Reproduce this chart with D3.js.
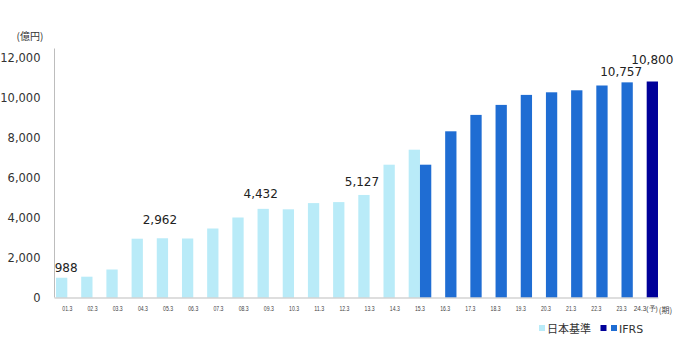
<!DOCTYPE html>
<html><head><meta charset="utf-8">
<script src="https://cdn.jsdelivr.net/npm/d3@7"></script>
<style>
html,body{margin:0;padding:0;background:#fff;}
svg{display:block;}
</style></head>
<body>
<svg id="chart" width="680" height="355"></svg>
<script>
const categories = ["01.3","02.3","03.3","04.3","05.3","06.3","07.3","08.3","09.3","10.3","11.3","12.3","13.3","14.3","15.3","16.3","17.3","18.3","19.3","20.3","21.3","22.3","23.3","24.3"];
const jgaapValues = [988,1040,1400,2940,2962,2950,3450,4000,4432,4410,4720,4770,5127,6640,7390,null,null,null,null,null,null,null,null,null];
const ifrsValues  = [null,null,null,null,null,null,null,null,null,null,null,null,null,null,6640,8310,9130,9630,10130,10260,10360,10600,10757,10800];
const forecastCategory = "24.3";
const yTicks = [0,2000,4000,6000,8000,10000,12000];
const labeledBars = [["01.3","jp"],["05.3","jp"],["09.3","jp"],["13.3","jp"],["23.3","ifrs"],["24.3","ifrs"]];
const unitLabel = "(億円)";
const periodLabel = "(期)";
const forecastSuffix = "(予)";
const legendJp = "日本基準";
const legendIfrs = "IFRS";

const C_JP = "#b9ebf8", C_IFRS = "#1f6dd3", C_FC = "#000099";
const svg = d3.select("#chart");
const y = d3.scaleLinear().domain([0,12000]).range([297.5,57.5]);
const x = d3.scaleBand().domain(categories).range([54.5,659.5]).paddingInner(0.103).paddingOuter(0.06);
const x1 = d3.scaleBand().domain(["jp","ifrs"]).range([0,x.bandwidth()]);

const rows = categories.map((c,i)=>({c, jp:jgaapValues[i], ifrs:ifrsValues[i]}));
const bars = [];
rows.forEach(r=>{
  if(r.jp!=null) bars.push({c:r.c,s:"jp",v:r.jp});
  if(r.ifrs!=null) bars.push({c:r.c,s:"ifrs",v:r.ifrs});
});
const colorOf = b => b.s==="jp" ? C_JP : (b.c===forecastCategory ? C_FC : C_IFRS);

svg.append("g").selectAll("rect").data(bars).join("rect")
  .attr("x", b=>x(b.c)+x1(b.s))
  .attr("width", x1.bandwidth())
  .attr("y", b=>y(b.v))
  .attr("height", b=>y(0)-y(b.v))
  .attr("fill", colorOf);

// axes
const font = "'DejaVu Sans', Verdana, sans-serif";
const yAxis = svg.append("g").attr("transform","translate(54.5,0)")
  .call(d3.axisLeft(y).tickValues(yTicks).tickSize(0).tickPadding(14).tickFormat(d3.format(",")));
yAxis.select(".domain").remove();
yAxis.selectAll("text").attr("font-family",font).attr("font-size","11.5px").attr("fill","#333");
svg.append("line").attr("x1",54.5).attr("x2",54.5).attr("y1",y(12450)).attr("y2",y(0)).attr("stroke","#bdbdbd").attr("stroke-width",1);

const xAxis = svg.append("g").attr("transform","translate(0,"+y(0)+")")
  .call(d3.axisBottom(x).tickSize(0).tickPadding(9).tickFormat(d=> d===forecastCategory ? d+forecastSuffix : d));
xAxis.select(".domain").attr("stroke","#bdbdbd").attr("d","M54.5,0.5H658.5");
xAxis.selectAll("text").attr("font-family","'Liberation Sans', Arial, sans-serif").attr("font-size","6.5px").attr("fill","#444")
  .each(function(d){ if(d!==forecastCategory) d3.select(this).attr("textLength",10).attr("lengthAdjust","spacingAndGlyphs"); else d3.select(this).attr("dx","-1"); });
svg.append("text").attr("x",x(forecastCategory)+x.bandwidth()/2+12).attr("y",y(0)+15.5)
  .attr("font-family","'Noto Sans CJK JP', sans-serif").attr("font-size","8px").attr("fill","#444").text(periodLabel);

svg.append("text").attr("x",30).attr("y",40).attr("text-anchor","middle")
  .attr("font-family","'Noto Sans CJK JP', sans-serif").attr("font-size","10px").attr("fill","#333").text(unitLabel);

// value labels (manual nudges as in the reference)
const nudge = {"01.3":[4.5,6],"05.3":[-2.5,14],"09.3":[-2.5,11],"13.3":[-2,9],"23.3":[-6,6.5],"24.3":[0,18]};
labeledBars.forEach(([c,s])=>{
  const b = bars.find(d=>d.c===c && d.s===s);
  const cx = x(c)+x1(s)+x1.bandwidth()/2;
  svg.append("text").attr("x",cx+nudge[c][0]).attr("y",y(b.v)-nudge[c][1])
    .attr("text-anchor","middle").attr("font-family",font).attr("font-size","12px").attr("fill","#222")
    .text(d3.format(",")(b.v));
});

// legend
const lg = svg.append("g");
lg.append("rect").attr("x",539).attr("y",325).attr("width",6).attr("height",6).attr("fill",C_JP);
lg.append("text").attr("x",547).attr("y",332.5).attr("font-family","'Noto Sans CJK JP', sans-serif").attr("font-size","11px").attr("fill","#333").text(legendJp);
lg.append("rect").attr("x",600.5).attr("y",325).attr("width",6).attr("height",6).attr("fill",C_FC);
lg.append("rect").attr("x",611).attr("y",325).attr("width",6).attr("height",6).attr("fill",C_IFRS);
lg.append("text").attr("x",619).attr("y",332.5).attr("font-family",font).attr("font-size","11px").attr("fill","#333").text(legendIfrs);
</script>
</body></html>
